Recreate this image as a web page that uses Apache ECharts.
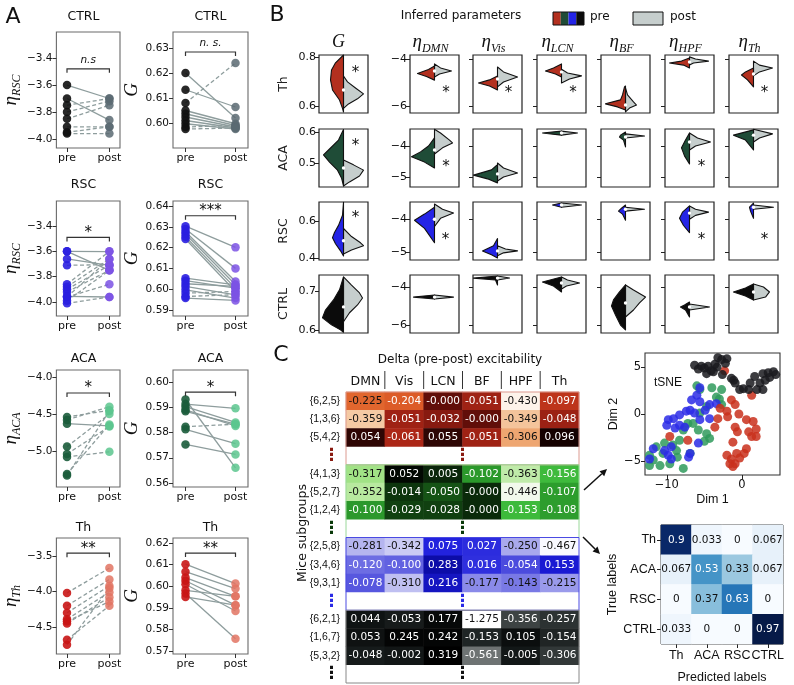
<!DOCTYPE html>
<html><head><meta charset="utf-8">
<script src="https://cdn.jsdelivr.net/npm/echarts@6/dist/echarts.min.js"></script>
<style>html,body{margin:0;padding:0;background:#fff}#c{width:794px;height:685px}</style>
</head><body><div id="c"></div>
<script>
// ===================== DATA =====================
// Panel A: paired [pre, post] values per mouse
const ctrlEtaPairs = [[-3.60,-3.70],[-3.70,-3.86],[-3.75,-3.70],[-3.80,-3.72],[-3.85,-3.75],[-3.91,-3.91],[-3.95,-3.91],[-3.96,-3.96]];
const ctrlGPairs = [[0.6200,0.6020],[0.6133,0.6064],[0.6080,0.6240],[0.6050,0.5997],[0.6037,0.5990],[0.6024,0.5984],[0.6010,0.5980],[0.5997,0.5976],[0.5984,0.5990],[0.5976,0.5980]];
const rscEtaPairs = [[-3.600,-3.602],[-3.60,-3.75],[-3.66,-3.71],[-3.71,-3.705],[-3.86,-3.60],[-3.88,-3.66],[-3.90,-3.71],[-3.92,-3.75],[-3.96,-3.66],[-3.96,-3.86],[-3.99,-3.75],[-4.01,-3.96],[-3.955,-3.96]];
const rscGPairs = [[0.6303,0.6201],[0.6289,0.6100],[0.6276,0.6037],[0.6265,0.6021],[0.6252,0.6005],[0.6241,0.5989],[0.6053,0.6021],[0.6041,0.6005],[0.6026,0.6013],[0.6013,0.5973],[0.5997,0.5957],[0.5981,0.5989],[0.5965,0.5973],[0.5957,0.5946]];
const acaEtaPairs = [[-4.54,-4.45],[-4.58,-4.40],[-4.63,-4.66],[-4.94,-4.50],[-5.04,-4.67],[-5.08,-5.01],[-5.33,-4.46],[-5.31,-4.64]];
const acaGPairs = [[0.5931,0.5660],[0.5913,0.5896],[0.5903,0.5840],[0.5884,0.5833],[0.5890,0.5826],[0.5823,0.5833],[0.5813,0.5756],[0.5753,0.5713]];
const thEtaPairs = [[-4.02,-3.67],[-4.20,-3.83],[-4.30,-3.92],[-4.39,-4.01],[-4.45,-4.08],[-4.42,-4.14],[-4.68,-4.20],[-4.75,-3.95]];
const thGPairs = [[0.6102,0.6012],[0.6067,0.5989],[0.6040,0.5953],[0.6025,0.5912],[0.6009,0.5885],[0.5981,0.5953],[0.5966,0.5757],[0.5950,0.5912]];
const ctrlEtaTicks = [-4.0,-3.8,-3.6,-3.4];
const ctrlGTicks = [0.60,0.61,0.62,0.63];
const rscEtaTicks = [-4.0,-3.8,-3.6,-3.4];
const rscGTicks = [0.59,0.60,0.61,0.62,0.63,0.64];
const acaEtaTicks = [-5.0,-4.5,-4.0];
const acaGTicks = [0.56,0.57,0.58,0.59,0.60];
const thEtaTicks = [-4.5,-4.0,-3.5];
const thGTicks = [0.57,0.58,0.59,0.60,0.61,0.62];
const sigLabels = ['n.s','n. s.','*','***','*','*','**','**'];
const sigLevels = [-3.48,0.6284,-3.49,0.6353,-4.216,0.596,-3.46,0.6153];

// Panel B: half-violin profiles [value, density]
const th_G_pre = [[0.808,0],[0.776,8],[0.747,12],[0.706,13],[0.665,11],[0.624,4],[0.59,1],[0.575,0]];
const th_G_post = [[0.722,0],[0.698,4],[0.673,12],[0.649,20],[0.629,14],[0.608,5],[0.59,0]];
const th_DMN_pre = [[-4.30,0],[-4.45,6],[-4.62,17],[-4.75,8],[-4.90,0]];
const th_DMN_post = [[-4.21,0],[-4.38,6],[-4.51,17],[-4.64,5],[-4.77,0]];
const th_Vis_pre = [[-4.72,0],[-4.89,8],[-5.02,19],[-5.15,8],[-5.32,0]];
const th_Vis_post = [[-4.34,0],[-4.55,6],[-4.77,20],[-4.98,6],[-5.19,0]];
const th_LCN_pre = [[-4.21,0],[-4.38,8],[-4.51,16],[-4.64,6],[-4.77,0]];
const th_LCN_post = [[-4.43,0],[-4.60,6],[-4.72,20],[-4.85,8],[-5.02,0]];
const th_BF_pre = [[-5.15,0],[-5.19,1],[-5.53,3],[-5.74,5],[-5.91,20],[-6.04,8],[-6.17,0]];
const th_BF_post = [[-5.23,0],[-5.53,2],[-5.83,8],[-5.96,11],[-6.09,4],[-6.25,0]];
const th_HPF_pre = [[-3.96,0],[-4.09,8],[-4.17,20],[-4.26,6],[-4.38,0]];
const th_HPF_post = [[-3.91,0],[-4.00,6],[-4.09,19],[-4.17,4],[-4.26,0]];
const th_Th_pre = [[-4.38,0],[-4.55,8],[-4.68,12],[-4.89,6],[-5.19,0]];
const th_Th_post = [[-4.09,0],[-4.26,6],[-4.38,19],[-4.55,6],[-4.72,0]];

const aca_G_pre = [[0.608,0],[0.574,5],[0.542,15],[0.526,20],[0.503,14],[0.477,6],[0.452,2],[0.426,0]];
const aca_G_post = [[0.51,0],[0.494,10],[0.477,20],[0.458,16],[0.439,6],[0.426,0]];
const aca_DMN_pre = [[-3.74,0],[-4.00,6],[-4.19,14],[-4.35,23],[-4.52,10],[-4.71,0]];
const aca_DMN_post = [[-3.46,0],[-3.58,6],[-3.81,15],[-3.90,18],[-4.06,8],[-4.26,0]];
const aca_Vis_pre = [[-4.61,0],[-4.63,1],[-4.77,6],[-4.94,24],[-5.06,10],[-5.19,0]];
const aca_Vis_post = [[-4.55,0],[-4.71,6],[-4.87,20],[-5.00,6],[-5.13,0]];
const aca_LCN_pre = [[-3.52,0],[-3.58,19],[-3.65,0]];
const aca_LCN_post = [[-3.52,0],[-3.58,16],[-3.65,0]];
const aca_BF_pre = [[-3.55,0],[-3.65,5],[-3.71,6],[-3.81,2],[-4.03,0]];
const aca_BF_post = [[-3.61,0],[-3.68,19],[-3.74,0]];
const aca_HPF_pre = [[-3.58,0],[-3.81,4],[-4.06,8],[-4.32,5],[-4.58,0]];
const aca_HPF_post = [[-3.58,0],[-3.74,8],[-3.87,21],[-4.00,6],[-4.13,0]];
const aca_Th_pre = [[-3.48,0],[-3.65,20],[-3.81,8],[-4.13,0]];
const aca_Th_post = [[-3.46,0],[-3.61,19],[-3.74,6],[-3.87,0]];

const rsc_G_pre = [[0.704,0],[0.633,1],[0.578,5],[0.539,9],[0.511,11],[0.478,8],[0.439,3],[0.411,0]];
const rsc_G_post = [[0.561,0],[0.517,8],[0.483,17],[0.467,20],[0.444,8],[0.422,0]];
const rsc_DMN_pre = [[-3.63,0],[-3.84,10],[-4.03,20],[-4.28,10],[-4.72,0]];
const rsc_DMN_post = [[-3.53,0],[-3.69,8],[-3.81,19],[-3.97,6],[-4.22,0]];
const rsc_Vis_pre = [[-4.59,0],[-4.81,4],[-4.97,15],[-5.09,6],[-5.19,0]];
const rsc_Vis_post = [[-4.81,0],[-4.91,8],[-4.97,20],[-5.03,6],[-5.12,0]];
const rsc_LCN_pre = [[-3.50,0],[-3.56,9],[-3.63,0]];
const rsc_LCN_post = [[-3.50,0],[-3.56,20],[-3.63,0]];
const rsc_BF_pre = [[-3.56,0],[-3.66,4],[-3.75,7],[-3.84,3],[-4.03,0]];
const rsc_BF_post = [[-3.63,0],[-3.69,19],[-3.75,0]];
const rsc_HPF_pre = [[-3.59,0],[-3.78,7],[-3.97,10],[-4.19,6],[-4.41,0]];
const rsc_HPF_post = [[-3.59,0],[-3.69,6],[-3.78,19],[-3.88,6],[-4.00,0]];
const rsc_Th_pre = [[-3.50,0],[-3.63,4],[-3.75,3],[-3.97,0]];
const rsc_Th_post = [[-3.56,0],[-3.63,20],[-3.69,0]];

const ctrl_G_pre = [[0.736,0],[0.703,4],[0.677,10],[0.651,18],[0.631,21],[0.613,12],[0.600,3],[0.594,0]];
const ctrl_G_post = [[0.736,0],[0.715,8],[0.695,16],[0.682,19],[0.664,14],[0.644,6],[0.621,0]];
const ctrl_DMN_pre = [[-4.42,0],[-4.53,21],[-4.63,0]];
const ctrl_DMN_post = [[-4.42,0],[-4.53,19],[-4.63,0]];
const ctrl_Vis_pre = [[-3.42,0],[-3.53,24],[-3.63,2],[-3.89,0]];
const ctrl_Vis_post = [[-3.42,0],[-3.53,12],[-3.63,0]];
const ctrl_LCN_pre = [[-3.47,0],[-3.74,19],[-3.95,8],[-4.26,0]];
const ctrl_LCN_post = [[-3.47,0],[-3.63,6],[-3.79,18],[-3.95,5],[-4.10,0]];
const ctrl_BF_pre = [[-3.89,0],[-4.26,6],[-4.68,12],[-5.00,14],[-5.47,10],[-6.00,5],[-6.26,0]];
const ctrl_BF_post = [[-3.89,0],[-4.16,8],[-4.53,20],[-4.84,14],[-5.21,8],[-5.58,0]];
const ctrl_HPF_pre = [[-4.79,0],[-4.95,5],[-5.05,9],[-5.21,4],[-5.58,0]];
const ctrl_HPF_post = [[-4.89,0],[-5.05,20],[-5.21,0]];
const ctrl_Th_pre = [[-3.84,0],[-4.05,8],[-4.26,20],[-4.47,8],[-4.68,0]];
const ctrl_Th_post = [[-3.84,0],[-4.00,10],[-4.26,16],[-4.53,12],[-4.68,0]];

const medTh = [0.665,-4.51,-4.85,-4.55,-5.96,-4.13,-4.64];
const medACA = [0.484,-4.13,-4.90,-3.58,-3.71,-3.87,-3.65];
const medRSC = [0.494,-4.00,-4.97,-3.56,-3.69,-3.81,-3.63];
const medCTRL = [0.659,-4.53,-3.53,-3.79,-4.84,-5.05,-4.26];
// significance stars: [column, x offset, value]
const starsTh = [[0,0.49,0.751],[1,0.47,-5.28],[2,0.45,-5.28],[3,0.47,-5.28],[6,0.45,-5.28]];
const starsACA = [[0,0.49,0.568],[1,0.47,-4.55],[5,0.49,-4.55]];
const starsRSC = [[0,0.49,0.639],[1,0.45,-4.53],[5,0.49,-4.53],[6,0.45,-4.53]];
const starsCTRL = [];
const bRowNames = ['Th','ACA','RSC','CTRL'];
const bColNames = ['G','DMN','Vis','LCN','BF','HPF','Th'];
const bGTicks = [[0.6,0.8],[0.5,0.6],[0.4,0.6],[0.6,0.7]];
const bEtaTicks = [[-6,-4],[-5,-4],[-5,-4],[-6,-4]];

// Panel C heatmap
const hmCols = ['DMN','Vis','LCN','BF','HPF','Th'];
const hmRowsRed = ['{6,2,5}','{1,3,6}','{5,4,2}'];
const hmValsRed = [[-0.225,-0.204,-0.0001,-0.051,-0.430,-0.097],[-0.359,-0.051,-0.032,-0.0001,-0.349,-0.048],[0.054,-0.061,0.055,-0.051,-0.306,0.096]];
const hmRowsGreen = ['{4,1,3}','{5,2,7}','{1,2,4}'];
const hmValsGreen = [[-0.317,0.052,0.005,-0.102,-0.363,-0.156],[-0.352,-0.014,-0.050,-0.0001,-0.446,-0.107],[-0.100,-0.029,-0.028,-0.0001,-0.153,-0.108]];
const hmRowsBlue = ['{2,5,8}','{3,4,6}','{9,3,1}'];
const hmValsBlue = [[-0.281,-0.342,0.075,0.027,-0.250,-0.467],[-0.120,-0.100,0.283,0.016,-0.054,0.153],[-0.078,-0.310,0.216,-0.177,-0.143,-0.215]];
const hmRowsBlack = ['{6,2,1}','{1,6,7}','{5,3,2}'];
const hmValsBlack = [[0.044,-0.053,0.177,-1.275,-0.356,-0.257],[0.053,0.245,0.242,-0.153,0.105,-0.154],[-0.048,-0.002,0.319,-0.561,-0.005,-0.306]];

// tSNE embedding
const tsneBlack = [[-6.3,5.2],[-5.4,5.1],[-4.5,5.1],[-3.6,5.3],[-2.7,5.8],[-2.0,5.9],[-3.2,6.0],[-3.3,5.0],[-4.7,4.3],[-5.8,4.8],[-3.8,4.5],[-1.1,3.6],[-0.9,3.3],[0.2,2.7],[0.9,2.6],[1.7,4.0],[2.4,3.3],[2.8,4.3],[3.5,4.4],[4.2,4.5],[3.7,3.9],[2.0,2.6],[2.8,2.6],[3.1,3.6],[1.1,3.3],[-0.3,2.6],[-1.4,3.8],[-2.2,5.4],[-4.1,4.6],[-5.0,4.9],[-2.6,4.2],[4.5,4.2]];
const tsneRed = [[-2.3,4.6],[1.3,2.0],[-1.4,1.5],[-0.9,1.0],[-2.0,0.3],[-3.2,-0.5],[-0.4,0.0],[0.6,-0.6],[1.5,-0.8],[1.9,-1.6],[1.3,-2.4],[-0.9,-1.4],[-0.6,-1.9],[-1.2,-3.0],[0.6,-3.7],[0.3,-4.2],[-0.7,-4.2],[-2.0,-4.4],[-1.4,-4.8],[-1.6,-5.3],[-0.9,-5.3],[-0.3,-4.7],[-1.2,-5.6],[-7.2,-2.8],[-9.6,-2.4],[-3.6,-1.4],[1.9,-2.4],[-2.9,0.6],[-1.9,-0.3],[0.9,-1.9]];
const tsneGreen = [[-6.0,3.0],[-5.6,2.6],[-4.0,2.8],[-2.7,2.6],[-3.4,1.8],[-2.7,1.0],[-4.7,0.8],[-5.6,0.1],[-6.5,-1.0],[-5.8,-1.7],[-7.8,-1.7],[-8.3,-2.8],[-10.3,-3.1],[-11.4,-3.5],[-12.3,-4.4],[-11.8,-4.9],[-10.9,-5.5],[-12.3,-5.5],[-9.6,-5.3],[-7.8,-5.8],[-8.6,-4.6],[-8.7,-3.9],[-4.7,-2.1],[-4.3,-2.6],[-6.9,-4.2],[-10.5,-4.2],[-7.2,-1.0],[-3.0,1.6],[-9.2,-3.3],[-5.0,-2.9]];
const tsneBlue = [[-5.6,2.8],[-6.0,2.0],[-6.7,1.5],[-5.6,1.3],[-4.3,1.0],[-3.4,1.1],[-6.9,0.4],[-6.3,0.1],[-7.4,0.3],[-8.3,-0.1],[-9.8,-0.6],[-10.0,-1.2],[-8.9,-1.5],[-8.3,-1.2],[-7.6,-1.4],[-5.6,-0.6],[-4.3,-0.5],[-5.8,-3.1],[-9.4,-3.5],[-10.3,-3.9],[-11.8,-3.7],[-12.3,-4.8],[-9.8,-4.4],[-9.4,-4.8],[-6.9,-4.2],[-7.1,-4.6],[-4.9,0.4],[-9.1,-0.5]];
const tsneXTicks = [-10,0];
const tsneYTicks = [-5,0,5];

// Confusion matrix
const cmLabels = ['Th','ACA','RSC','CTRL'];
const cmValues = [[0.9,0.033,0,0.067],[0.067,0.53,0.33,0.067],[0,0.37,0.63,0],[0.033,0,0,0.97]];

// ===================== BUILD =====================
const SANS = 'DejaVu Sans', SERIF = 'Liberation Serif', ARIAL = 'Liberation Sans';
const minus = s => String(s).replace('-', '\u2212');
const grids = [], xAxes = [], yAxes = [], series = [], visualMaps = [], graphics = [];
function addGrid(g, xa, ya) { grids.push(g); const i = grids.length - 1; xa.gridIndex = i; ya.gridIndex = i; xAxes.push(xa); yAxes.push(ya); return i; }
function txt(x, y, text, st, rot) { graphics.push({type:'text', x, y, rotation: rot || 0, style: Object.assign({text, fontFamily:SANS, fontSize:12, fill:'#111', align:'center', verticalAlign:'middle'}, st || {})}); }
const etaRich = { e:{fontFamily:SERIF, fontStyle:'italic', fontSize:19, color:'#111'}, s:{fontFamily:SERIF, fontStyle:'italic', fontSize:12, color:'#111', padding:[13,0,0,0]} };
const NOLINE = {show:false, onZero:false};

// ---------- Panel A ----------
const aColors = {CTRL:['#111111','#5a6a72'], RSC:['#2a1fe0','#7b52e4'], ACA:['#1b5c3b','#5cc58e'], Th:['#c91515','#e27463']};
const aPanels = [
  {t:'CTRL', sub:'RSC', pairs:ctrlEtaPairs, ticks:ctrlEtaTicks, dec:1, range:[-4.067,-3.207], box:[47,32,73,116], ty:17},
  {t:'CTRL', sub:null, pairs:ctrlGPairs, ticks:ctrlGTicks, dec:2, range:[0.590,0.6364], box:[173,32,75,116], ty:17},
  {t:'RSC', sub:'RSC', pairs:rscEtaPairs, ticks:rscEtaTicks, dec:1, range:[-4.11,-3.203], box:[47,201,73,115], ty:185},
  {t:'RSC', sub:null, pairs:rscGPairs, ticks:rscGTicks, dec:2, range:[0.5871,0.6424], box:[173,201,75,115], ty:185},
  {t:'ACA', sub:'ACA', pairs:acaEtaPairs, ticks:acaEtaTicks, dec:1, range:[-5.486,-3.905], box:[47,370,73,117], ty:359},
  {t:'ACA', sub:null, pairs:acaGPairs, ticks:acaGTicks, dec:2, range:[0.5584,0.6048], box:[173,370,75,117], ty:359},
  {t:'Th', sub:'Th', pairs:thEtaPairs, ticks:thEtaTicks, dec:1, range:[-4.88,-3.246], box:[47,538,73,116], ty:528},
  {t:'Th', sub:null, pairs:thGPairs, ticks:thGTicks, dec:2, range:[0.5686,0.6223], box:[173,538,75,116], ty:528}
];
aPanels.forEach((p, k) => {
  const [l, t, w, h] = p.box;
  const gi = addGrid({left:l, top:t, width:w, height:h, show:true, borderColor:'#6a6a6a', borderWidth:1.1, backgroundColor:'transparent'},
    {type:'value', min:-0.25, max:1.25, axisLine:NOLINE, splitLine:{show:false},
     axisTick:{show:true, customValues:[0,1], length:4, lineStyle:{color:'#333'}},
     axisLabel:{customValues:[0,1], formatter:v => v === 0 ? 'pre' : 'post', fontFamily:SANS, fontSize:11, color:'#111', margin:5}},
    {type:'value', min:p.range[0], max:p.range[1], axisLine:NOLINE, splitLine:{show:false},
     axisTick:{show:true, customValues:p.ticks, length:4, lineStyle:{color:'#333'}},
     axisLabel:{customValues:p.ticks, formatter:v => minus(v.toFixed(p.dec)), fontFamily:SANS, fontSize:10.5, color:'#111', margin:4},
     name: p.sub ? '{e|η}{s|' + p.sub + '}' : 'G', nameLocation:'middle', nameRotate:90, nameGap: p.sub ? 29 : 29,
     nameTextStyle: p.sub ? {rich:etaRich} : {fontFamily:SERIF, fontStyle:'italic', fontSize:19, color:'#111'}});
  const col = aColors[p.t];
  series.push({type:'custom', xAxisIndex:gi, yAxisIndex:gi, z:1, silent:true, data:p.pairs.map(q => [q[0], q[1]]),
    renderItem:(params, api) => {
      const a = api.coord([0, api.value(0)]), b = api.coord([1, api.value(1)]);
      const dashed = api.value(1) >= api.value(0);
      return {type:'line', shape:{x1:a[0], y1:a[1], x2:b[0], y2:b[1]}, style:{stroke:'#8e9d9d', lineWidth:1.3, lineDash: dashed ? [4,2.5] : null}};
    }});
  series.push({type:'scatter', xAxisIndex:gi, yAxisIndex:gi, z:3, symbolSize:8.5, data:p.pairs.map(q => [0, q[0]]), itemStyle:{color:col[0], opacity:0.9}});
  series.push({type:'scatter', xAxisIndex:gi, yAxisIndex:gi, z:3, symbolSize:8.5, data:p.pairs.map(q => [1, q[1]]), itemStyle:{color:col[1], opacity:0.85}});
  const lab = sigLabels[k];
  const ital = lab.indexOf('n') === 0;
  series.push({type:'custom', xAxisIndex:gi, yAxisIndex:gi, z:4, silent:true, data:[[0.5, sigLevels[k]]],
    renderItem:(params, api) => {
      const y = api.value(1);
      const a = api.coord([0, y]), b = api.coord([1, y]);
      return {type:'group', children:[
        {type:'polyline', shape:{points:[[a[0], a[1] + 4], [a[0], a[1]], [b[0], b[1]], [b[0], b[1] + 4]]}, style:{stroke:'#333', lineWidth:1.2, fill:null}},
        {type:'text', x:(a[0] + b[0]) / 2, y: ital ? a[1] - 3 : a[1] + 3, style:{text:lab, fontFamily:SANS, fontStyle: ital ? 'italic' : 'normal', fontSize: ital ? 10.5 : 15, fill:'#111', align:'center', verticalAlign:'bottom'}}
      ]};
    }});
  txt(l + w / 2, p.ty, p.t, {fontSize:12.5});
});
txt(13, 17, 'A', {fontSize:22});

// ---------- Panel B ----------
const violins = [
  [[th_G_pre,th_G_post],[th_DMN_pre,th_DMN_post],[th_Vis_pre,th_Vis_post],[th_LCN_pre,th_LCN_post],[th_BF_pre,th_BF_post],[th_HPF_pre,th_HPF_post],[th_Th_pre,th_Th_post]],
  [[aca_G_pre,aca_G_post],[aca_DMN_pre,aca_DMN_post],[aca_Vis_pre,aca_Vis_post],[aca_LCN_pre,aca_LCN_post],[aca_BF_pre,aca_BF_post],[aca_HPF_pre,aca_HPF_post],[aca_Th_pre,aca_Th_post]],
  [[rsc_G_pre,rsc_G_post],[rsc_DMN_pre,rsc_DMN_post],[rsc_Vis_pre,rsc_Vis_post],[rsc_LCN_pre,rsc_LCN_post],[rsc_BF_pre,rsc_BF_post],[rsc_HPF_pre,rsc_HPF_post],[rsc_Th_pre,rsc_Th_post]],
  [[ctrl_G_pre,ctrl_G_post],[ctrl_DMN_pre,ctrl_DMN_post],[ctrl_Vis_pre,ctrl_Vis_post],[ctrl_LCN_pre,ctrl_LCN_post],[ctrl_BF_pre,ctrl_BF_post],[ctrl_HPF_pre,ctrl_HPF_post],[ctrl_Th_pre,ctrl_Th_post]]
];
const medians = [medTh, medACA, medRSC, medCTRL];
const stars = [starsTh, starsACA, starsRSC, starsCTRL];
const bColors = ['#b3301f','#1f4c37','#2424e6','#0b0b0b'];
const POST_FILL = '#c6cecd';
const DMAX = 24.5;
const bColLeft = [319,410,473,537,601,665,729];
const bRowTop = [55,129,202,275];
const bRowRanges = [
  {g:[0.571,0.808], e:[-6.30,-3.83]},
  {g:[0.4226,0.6097], e:[-5.323,-3.452]},
  {g:[0.389,0.7056], e:[-5.25,-3.469]},
  {g:[0.592,0.741], e:[-6.42,-3.368]}
];
for (let r = 0; r < 4; r++) {
  for (let c = 0; c < 7; c++) {
    const isG = c === 0;
    const rng = isG ? bRowRanges[r].g : bRowRanges[r].e;
    const ticks = isG ? bGTicks[r] : bEtaTicks[r];
    const gi = addGrid({left:bColLeft[c], top:bRowTop[r], width:49, height:58, show:true, borderColor:'#222', borderWidth:1.2, backgroundColor:'transparent'},
      {type:'value', min:-1, max:1, show:false, axisLine:NOLINE},
      {type:'value', min:rng[0], max:rng[1], axisLine:NOLINE, splitLine:{show:false},
       axisTick:{show:true, customValues:ticks, length:4, lineStyle:{color:'#222'}},
       axisLabel:{show: c <= 1, customValues:ticks, formatter:v => minus(isG ? v.toFixed(1) : String(v)), fontFamily:SANS, fontSize:11, color:'#111', margin:3}});
    const vp = violins[r][c];
    const med = medians[r][c];
    const st = stars[r].filter(s => s[0] === c);
    const fill = bColors[r];
    series.push({type:'custom', xAxisIndex:gi, yAxisIndex:gi, silent:true, data:[[0, med]],
      renderItem:(params, api) => {
        const half = (prof, side) => {
          const pts = prof.map(q => api.coord([side * q[1] / DMAX, q[0]]));
          pts.push(api.coord([0, prof[prof.length - 1][0]]));
          pts.push(api.coord([0, prof[0][0]]));
          return pts;
        };
        const m = api.coord([0, api.value(1)]);
        const ch = [
          {type:'polygon', shape:{points:half(vp[1], 1)}, style:{fill:POST_FILL, stroke:'#111', lineWidth:1.1, lineJoin:'round'}},
          {type:'polygon', shape:{points:half(vp[0], -1)}, style:{fill:fill, stroke:'#111', lineWidth:1.1, lineJoin:'round'}},
          {type:'circle', shape:{cx:m[0], cy:m[1], r:1.7}, style:{fill:'#fff', stroke:null}}
        ];
        st.forEach(s => { const p = api.coord([s[1], s[2]]); ch.push({type:'text', x:p[0], y:p[1] + 4, style:{text:'*', fontFamily:SANS, fontSize:15, fill:'#111', align:'center', verticalAlign:'middle'}}); });
        return {type:'group', children:ch};
      }});
  }
  txt(284, bRowTop[r] + 29, bRowNames[r], {fontSize:12.5, fill:'#222'}, Math.PI / 2);
}
bColNames.forEach((n, c) => {
  const cx = bColLeft[c] + 24.5;
  if (c === 0) txt(cx - 5, 42, 'G', {fontFamily:SERIF, fontStyle:'italic', fontSize:18});
  else txt(cx - 4, 42, '{e|η}{s|' + n + '}', {rich:etaRich});
});
txt(277, 15, 'B', {fontSize:22});
txt(461, 16, 'Inferred parameters', {fontSize:12});
// legend patches
['#b3301f','#1f4c37','#2424e6','#0b0b0b'].forEach((cl, i) => graphics.push({type:'rect', shape:{x:553 + i * 7.75, y:12, width:7.75, height:13}, style:{fill:cl}}));
graphics.push({type:'rect', shape:{x:553, y:12, width:31, height:13}, style:{fill:null, stroke:'#111', lineWidth:1}});
graphics.push({type:'rect', shape:{x:633, y:12, width:30, height:13}, style:{fill:POST_FILL, stroke:'#111', lineWidth:1}});
txt(590, 17, 'pre', {fontSize:12, align:'left'});
txt(670, 17, 'post', {fontSize:12, align:'left'});

// ---------- Panel C heatmap ----------
const groups = [
  {rows:hmRowsRed, vals:hmValsRed, colors:['#fdf3ea','#f7d5b5','#f1b684','#ea8a4f','#e0622a','#d44a22','#c53b1d','#ad2717','#6a100a','#350705','#150100'], border:'#dc9a90', dot:'#8a1a10', thr:0.42},
  {rows:hmRowsGreen, vals:hmValsGreen, colors:['#f2f9ec','#d6f2c6','#b4e89a','#94de78','#72d25a','#52c646','#3ab83a','#2a962a','#145014','#0a280a','#020802'], border:'#9ad89a', dot:'#0a3a0a', thr:0.44},
  {rows:hmRowsBlue, vals:hmValsBlue, colors:['#f8f8ff','#dcdcf8','#c2c2f2','#a6a6ec','#8686e8','#5e5ee0','#3838dc','#2424e0','#1c1cd8','#1616c4','#0c0ca8'], border:'#4a4ae2', dot:'#2a2ae6', thr:0.44},
  {rows:hmRowsBlack, vals:hmValsBlack, colors:['#ffffff','#e0e0e0','#c0c0c0','#a0a2a2','#808484','#5a6060','#343a3a','#202626','#121616','#080a0a','#000000'], border:'#888888', dot:'#111111', thr:0.44}
];
const yCats = [];
groups.forEach((g, gi) => { g.rows.forEach(r => yCats.push(r)); yCats.push('gap' + gi); });
const hmRich = {};
groups.forEach((g, gi) => { hmRich['d' + gi] = {color:g.dot, fontSize:17, fontWeight:'bold', fontFamily:SANS}; });
const hmGrid = addGrid({left:346, top:392, width:233, height:291},
  {type:'category', data:hmCols, position:'top', axisLine:NOLINE, axisTick:{show:false}, splitLine:{show:false},
   axisLabel:{fontFamily:SANS, fontSize:12.5, color:'#111', margin:4, interval:0}},
  {type:'category', data:yCats, inverse:true, axisLine:NOLINE, axisTick:{show:false}, splitLine:{show:false},
   axisLabel:{fontFamily:ARIAL, fontSize:10.5, color:'#111', margin:6, interval:0, rich:hmRich,
     formatter:v => v.indexOf('gap') === 0 ? '{d' + v.slice(3) + '|⋮}' : v}});
groups.forEach((g, gi) => {
  const flat = g.vals.flat();
  const mn = Math.min(...flat), mx = Math.max(...flat);
  const data = [];
  g.vals.forEach((row, ri) => row.forEach((v, ci) => {
    const nrm = (v - mn) / (mx - mn);
    data.push({value:[ci, gi * 4 + ri, v], label:{color: nrm > g.thr ? '#fff' : '#111'}});
  }));
  series.push({type:'heatmap', xAxisIndex:hmGrid, yAxisIndex:hmGrid, data,
    label:{show:true, fontFamily:SANS, fontSize:10.5, formatter:p => p.value[2].toFixed(3)},
    itemStyle:{borderWidth:0}, emphasis:{disabled:true}});
  visualMaps.push({type:'continuous', show:false, seriesIndex:series.length - 1, dimension:2, min:mn, max:mx, inRange:{color:g.colors}});
});
series.push({type:'custom', xAxisIndex:hmGrid, yAxisIndex:hmGrid, silent:true, z:5, data:groups.map((g, gi) => [0, gi * 4, gi]),
  renderItem:(params, api) => {
    const g = groups[api.value(2)];
    const c0 = api.coord([0, api.value(1)]);
    const sz = api.size([1, 1]);
    const x0 = c0[0] - sz[0] / 2, y0 = c0[1] - sz[1] / 2;
    const ch = [
      {type:'rect', shape:{x:x0, y:y0, width:sz[0] * 6, height:sz[1] * 4}, style:{fill:null, stroke:g.border, lineWidth:1}},
      {type:'text', x:x0 + sz[0] * 3, y:y0 + sz[1] * 3.5, style:{text:'⋮', fontFamily:SANS, fontSize:17, fontWeight:'bold', fill:g.dot, align:'center', verticalAlign:'middle'}}
    ];
    if (api.value(2) === 0) {
      for (let k = 1; k < 6; k++) ch.push({type:'line', shape:{x1:x0 + k * sz[0], y1:y0 - 21, x2:x0 + k * sz[0], y2:y0 - 3}, style:{stroke:'#333', lineWidth:1}});
    }
    return {type:'group', children:ch};
  }});
txt(281, 355, 'C', {fontSize:22});
txt(460, 360, 'Delta (pre-post) excitability', {fontSize:12});
txt(303, 533, 'Mice subgroups', {fontSize:12.5}, Math.PI / 2);

// ---------- tSNE ----------
const tsGrid = addGrid({left:645, top:353, width:135, height:122, show:true, borderColor:'#333', borderWidth:1.1, backgroundColor:'transparent'},
  {type:'value', min:-12.9, max:5.07, axisLine:NOLINE, splitLine:{show:false},
   axisTick:{customValues:tsneXTicks, length:4, lineStyle:{color:'#222'}},
   axisLabel:{customValues:tsneXTicks, formatter:v => minus(v), fontFamily:SANS, fontSize:11.5, color:'#111', margin:4},
   name:'Dim 1', nameLocation:'middle', nameGap:18, nameTextStyle:{fontFamily:ARIAL, fontSize:12.5, color:'#111'}},
  {type:'value', min:-6.5, max:6.5, axisLine:NOLINE, splitLine:{show:false},
   axisTick:{customValues:tsneYTicks, length:4, lineStyle:{color:'#222'}},
   axisLabel:{customValues:tsneYTicks, formatter:v => minus(v), fontFamily:SANS, fontSize:11.5, color:'#111', margin:4},
   name:'Dim 2', nameLocation:'middle', nameRotate:90, nameGap:14, nameTextStyle:{fontFamily:ARIAL, fontSize:12.5, color:'#111'}});
[[tsneGreen,'#2f9a5c'],[tsneBlue,'#2b2be6'],[tsneRed,'#c9301c'],[tsneBlack,'#1a1a1e']].forEach(([d, cl]) => {
  series.push({type:'scatter', xAxisIndex:tsGrid, yAxisIndex:tsGrid, symbolSize:9, data:d, itemStyle:{color:cl, opacity:0.85}});
});
txt(668, 383, 'tSNE', {fontFamily:ARIAL, fontSize:12});

// ---------- Confusion matrix ----------
const cmGrid = addGrid({left:661, top:525, width:122, height:119, show:true, borderColor:'#222', borderWidth:1, backgroundColor:'transparent'},
  {type:'category', data:cmLabels, axisLine:NOLINE, splitLine:{show:false},
   axisTick:{show:true, alignWithLabel:true, length:4, lineStyle:{color:'#222'}},
   axisLabel:{fontFamily:ARIAL, fontSize:12.5, color:'#111', margin:5, interval:0},
   name:'Predicted labels', nameLocation:'middle', nameGap:27, nameTextStyle:{fontFamily:ARIAL, fontSize:12.5, color:'#111'}},
  {type:'category', data:cmLabels, inverse:true, axisLine:NOLINE, splitLine:{show:false},
   axisTick:{show:true, alignWithLabel:true, length:4, lineStyle:{color:'#222'}},
   axisLabel:{fontFamily:ARIAL, fontSize:12.5, color:'#111', margin:5, interval:0},
   name:'True labels', nameLocation:'middle', nameRotate:90, nameGap:40, nameTextStyle:{fontFamily:ARIAL, fontSize:12.5, color:'#111'}});
const cmData = [];
cmValues.forEach((row, ri) => row.forEach((v, ci) => cmData.push({value:[ci, ri, v], label:{color: v > 0.5 ? '#fff' : '#111'}})));
series.push({type:'heatmap', xAxisIndex:cmGrid, yAxisIndex:cmGrid, data:cmData,
  label:{show:true, fontFamily:SANS, fontSize:10.5, formatter:p => String(p.value[2])}, itemStyle:{borderWidth:0}, emphasis:{disabled:true}});
visualMaps.push({type:'continuous', show:false, seriesIndex:series.length - 1, dimension:2, min:0, max:0.97,
  inRange:{color:['#f7fbff','#deebf7','#c6dbef','#9ecae1','#6baed6','#4292c6','#2171b5','#0d4fa0','#0b2f7a','#061a48']}});

// arrows (annotation)
function arrow(x1, y1, x2, y2) {
  const a = Math.atan2(y2 - y1, x2 - x1), L = 7, W = 3.5;
  const bx = x2 - L * Math.cos(a), by = y2 - L * Math.sin(a);
  graphics.push({type:'line', shape:{x1, y1, x2:bx, y2:by}, style:{stroke:'#111', lineWidth:1.5}});
  graphics.push({type:'polygon', shape:{points:[[x2, y2], [bx + W * Math.sin(a), by - W * Math.cos(a)], [bx - W * Math.sin(a), by + W * Math.cos(a)]]}, style:{fill:'#111'}});
}
arrow(584, 490, 607, 469);
arrow(583, 537, 600, 554);

const chart = echarts.init(document.getElementById('c'), null, {renderer:'canvas'});
chart.setOption({animation:false, backgroundColor:'#fff', grid:grids, xAxis:xAxes, yAxis:yAxes, series, visualMap:visualMaps, graphic:{elements:graphics}});
</script></body></html>
